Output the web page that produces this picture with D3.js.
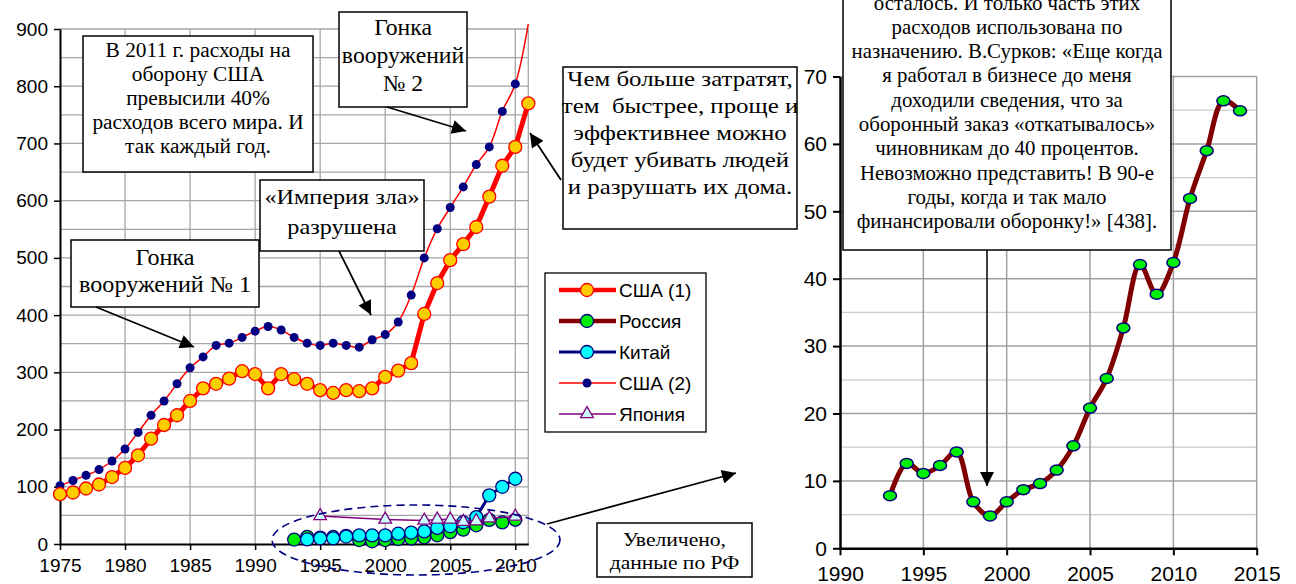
<!DOCTYPE html>
<html>
<head>
<meta charset="utf-8">
<script src="https://cdn.jsdelivr.net/npm/d3@7"></script>
<style>
  body { margin: 0; background: #fff; }
  svg { display: block; }
  .serif { font-family: "Times New Roman", "Liberation Serif", serif; white-space: pre; }
  .sans { font-family: Arial, "Liberation Sans", sans-serif; }
</style>
</head>
<body>
<div id="chart"></div>
<script>
// ---- data ----
const usaYears = d3.range(1975, 2012);
const usa1 = [87, 90, 97, 104, 117, 133, 155, 184, 208, 225, 250, 272, 280, 289, 302, 297, 272, 297, 288, 280,
              269, 264, 269, 267, 272, 292, 303, 316, 402, 456, 496, 524, 554, 607, 661, 694, 770];
const usa2 = [102, 111, 120, 130, 145, 166, 195, 225, 250, 280, 308, 327, 347, 351, 361, 372, 380, 374, 361, 351,
              347, 351, 347, 344, 357, 366, 388, 435, 500, 551, 588, 624, 663, 694, 756, 804, 909];
const russiaYears = d3.range(1993, 2015);
const russia = [7.8, 12.6, 11.1, 12.3, 14.3, 6.9, 4.8, 6.9, 8.7, 9.6, 11.6, 15.2, 20.8, 25.2, 32.7, 42.1,
                37.7, 42.4, 51.9, 59.0, 66.4, 64.9];
const chinaYears = d3.range(1994, 2011);
const china = [8, 10, 10, 13, 15, 15, 15, 18, 20, 22, 28, 31, 38, 47, 85, 100, 114];
const japanYears = [1995, 2000, 2003, 2004, 2005, 2006, 2007, 2008, 2010];
const japan = [49, 43, 41, 43, 43, 39, 40, 45, 48];

const leftYTicks = d3.range(0, 901, 100);
const leftXTicks = d3.range(1975, 2011, 5);
const rightYTicks = d3.range(0, 71, 10);
const rightXTicks = d3.range(1990, 2016, 5);

const legendNames = ["США (1)", "Россия", "Китай", "США (2)", "Япония"];

const zip = (xs, vs) => xs.map((x, i) => ({x: x, v: vs[i]}));

const svg = d3.select("#chart").append("svg")
    .attr("width", 1296).attr("height", 584);

const defs = svg.append("defs");
defs.append("marker")
    .attr("id", "ah")
    .attr("viewBox", "0 0 10 10")
    .attr("refX", 10).attr("refY", 5)
    .attr("markerUnits", "userSpaceOnUse")
    .attr("markerWidth", 17).attr("markerHeight", 14)
    .attr("orient", "auto")
  .append("path").attr("d", "M0,0 L10,5 L0,10 Z").attr("fill", "#000");

// ================= LEFT CHART =================
const xL = d3.scaleLinear().domain([1975, 2011]).range([60, 528.3]);
const yL = d3.scaleLinear().domain([0, 900]).range([544, 29]);

const gL = svg.append("g");

// grid
gL.selectAll(".hgrid").data(d3.range(50, 901, 50)).join("line")
    .attr("x1", xL(1975)).attr("x2", xL(2011))
    .attr("y1", d => yL(d)).attr("y2", d => yL(d))
    .attr("stroke", "#a6a6a6").attr("stroke-width", 1.3);
gL.selectAll(".vgrid").data(leftXTicks.slice(1).concat([2011])).join("line")
    .attr("x1", d => xL(d)).attr("x2", d => xL(d))
    .attr("y1", yL(0)).attr("y2", yL(900))
    .attr("stroke", "#a6a6a6").attr("stroke-width", 1.3);

// axes
const axL = gL.append("g").attr("transform", `translate(${xL(1975)},0)`)
    .call(d3.axisLeft(yL).tickValues(leftYTicks).tickSize(6).tickSizeOuter(0).tickPadding(6));
const axB = gL.append("g").attr("transform", `translate(0,${yL(0)})`)
    .call(d3.axisBottom(xL).tickValues(leftXTicks).tickFormat(d3.format("d")).tickSize(6).tickSizeOuter(0).tickPadding(9));
[axL, axB].forEach(a => {
  a.select(".domain").attr("stroke", "#000").attr("stroke-width", 2);
  a.selectAll(".tick line").attr("stroke", "#000").attr("stroke-width", 1.5);
  a.selectAll("text").attr("class", "sans").style("font-size", "19px").attr("fill", "#000");
});

const lineL = d3.line().x(d => xL(d.x)).y(d => yL(d.v));

// USA (2)
gL.append("path").datum(zip(usaYears, usa2))
    .attr("d", lineL.curve(d3.curveCatmullRom)).attr("fill", "none")
    .attr("stroke", "#ff0000").attr("stroke-width", 1.5);
gL.selectAll(".u2").data(zip(usaYears, usa2).filter(d => d.v <= 900)).join("circle")
    .attr("cx", d => xL(d.x)).attr("cy", d => yL(d.v)).attr("r", 4.5)
    .attr("fill", "#000080");

// USA (1)
gL.append("path").datum(zip(usaYears, usa1))
    .attr("d", lineL.curve(d3.curveLinear)).attr("fill", "none")
    .attr("stroke", "#ff0000").attr("stroke-width", 5).attr("stroke-linejoin", "round");
gL.selectAll(".u1").data(zip(usaYears, usa1)).join("circle")
    .attr("cx", d => xL(d.x)).attr("cy", d => yL(d.v)).attr("r", 6.5)
    .attr("fill", "#ffcc00").attr("stroke", "#ff0000").attr("stroke-width", 1.3);

// Russia (left, to 2010)
const rusL = zip(russiaYears, russia).filter(d => d.x <= 2010);
gL.append("path").datum(rusL)
    .attr("d", lineL.curve(d3.curveLinear)).attr("fill", "none")
    .attr("stroke", "#800000").attr("stroke-width", 4);
gL.selectAll(".ru").data(rusL).join("circle")
    .attr("cx", d => xL(d.x)).attr("cy", d => yL(d.v)).attr("r", 6.5)
    .attr("fill", "#00ee00").attr("stroke", "#000080").attr("stroke-width", 1.3);

// China
gL.append("path").datum(zip(chinaYears, china))
    .attr("d", lineL.curve(d3.curveLinear)).attr("fill", "none")
    .attr("stroke", "#000080").attr("stroke-width", 3);
gL.selectAll(".cn").data(zip(chinaYears, china)).join("circle")
    .attr("cx", d => xL(d.x)).attr("cy", d => yL(d.v)).attr("r", 6.5)
    .attr("fill", "#00ffff").attr("stroke", "#000080").attr("stroke-width", 1.3);

// Japan
const tri = d3.symbol().type(d3.symbolTriangle).size(70);
gL.append("path").datum(zip(japanYears, japan))
    .attr("d", lineL.curve(d3.curveLinear)).attr("fill", "none")
    .attr("stroke", "#800080").attr("stroke-width", 1.5);
gL.selectAll(".jp").data(zip(japanYears, japan)).join("path")
    .attr("d", tri)
    .attr("transform", d => `translate(${xL(d.x)},${yL(d.v)})`)
    .attr("fill", "#ccffff").attr("stroke", "#800080").attr("stroke-width", 1.3);

// ================= RIGHT CHART =================
const xR = d3.scaleLinear().domain([1990, 2015]).range([840, 1256.7]);
const yR = d3.scaleLinear().domain([0, 70]).range([548.3, 76.5]);
const gR = svg.append("g");

gR.selectAll(".minor").data(d3.range(5, 70, 10)).join("line")
    .attr("x1", xR(1990)).attr("x2", xR(2015))
    .attr("y1", d => yR(d)).attr("y2", d => yR(d))
    .attr("stroke", "#cccccc").attr("stroke-width", 1.3);
gR.selectAll(".major").data(rightYTicks.slice(1)).join("line")
    .attr("x1", xR(1990)).attr("x2", xR(2015))
    .attr("y1", d => yR(d)).attr("y2", d => yR(d))
    .attr("stroke", "#a0a0a0").attr("stroke-width", 1.5);
gR.selectAll(".vg").data(rightXTicks.slice(1)).join("line")
    .attr("x1", d => xR(d)).attr("x2", d => xR(d))
    .attr("y1", yR(0)).attr("y2", yR(70))
    .attr("stroke", "#a0a0a0").attr("stroke-width", 1.5);

const axRL = gR.append("g").attr("transform", `translate(${xR(1990)},0)`)
    .call(d3.axisLeft(yR).tickValues(rightYTicks).tickSize(7).tickSizeOuter(0).tickPadding(6));
const axRB = gR.append("g").attr("transform", `translate(0,${yR(0)})`)
    .call(d3.axisBottom(xR).tickValues(rightXTicks).tickFormat(d3.format("d")).tickSize(7).tickSizeOuter(0).tickPadding(11));
[axRL, axRB].forEach(a => {
  a.select(".domain").attr("stroke", "#000").attr("stroke-width", 2.5);
  a.selectAll(".tick line").attr("stroke", "#000").attr("stroke-width", 2);
  a.selectAll("text").attr("class", "sans").style("font-size", "21px").attr("fill", "#000");
});

const lineR = d3.line().x(d => xR(d.x)).y(d => yR(d.v)).curve(d3.curveCatmullRom);
gR.append("path").datum(zip(russiaYears, russia))
    .attr("d", lineR).attr("fill", "none")
    .attr("stroke", "#800000").attr("stroke-width", 5).attr("stroke-linejoin", "round");
gR.selectAll(".rr").data(zip(russiaYears, russia)).join("ellipse")
    .attr("cx", d => xR(d.x)).attr("cy", d => yR(d.v)).attr("rx", 6.5).attr("ry", 5)
    .attr("fill", "#00ee00").attr("stroke", "#000080").attr("stroke-width", 1.5);

// ================= ANNOTATIONS =================
// text in the source is slightly stretched horizontally, hence sx
function box(x, y, w, h, lines, fs, firstY, lineH, sx) {
  const g = svg.append("g");
  g.append("rect").attr("x", x).attr("y", y).attr("width", w).attr("height", h)
      .attr("fill", "#fff").attr("stroke", "#000").attr("stroke-width", 1.5);
  g.append("g").attr("transform", `translate(${x + w / 2},0) scale(${sx},1)`)
    .selectAll("text").data(lines).join("text")
      .attr("class", "serif")
      .attr("x", 0)
      .attr("y", (d, i) => firstY + i * lineH + fs * 0.33)
      .attr("text-anchor", "middle")
      .style("font-size", fs + "px")
      .attr("fill", "#000")
      .text(d => d);
}
function arrow(x1, y1, x2, y2) {
  svg.append("line").attr("x1", x1).attr("y1", y1).attr("x2", x2).attr("y2", y2)
      .attr("stroke", "#000").attr("stroke-width", 1.8).attr("marker-end", "url(#ah)");
}

// dashed ellipse around the small series
svg.append("ellipse").attr("cx", 416).attr("cy", 540).attr("rx", 144).attr("ry", 35)
    .attr("fill", "none").attr("stroke", "#000080").attr("stroke-width", 1.6)
    .attr("stroke-dasharray", "8,5");
arrow(547, 524, 736, 473);

box(83, 36, 230, 136, ["В 2011 г. расходы на", "оборону США", "превысили 40%", "расходов всего мира. И", "так каждый год."], 20, 50, 24.2, 1.07);
box(339, 12, 128, 95, ["Гонка", "вооружений", "№ 2"], 23, 27, 28.3, 1.03);
arrow(387, 107, 466, 131);
box(260, 180, 164, 71, ["«Империя зла»", "разрушена"], 22, 197, 30, 1.1);
arrow(339, 251, 371, 315);
box(71, 240, 188, 67, ["Гонка", "вооружений № 1"], 23, 257, 27, 1.05);
arrow(96, 307, 194, 347);
box(563, 67, 234, 162, ["Чем больше затратят,", "тем  быстрее, проще и", "эффективнее можно", "будет убивать людей", "и разрушать их дома."], 22, 79, 27, 1.13);
arrow(561, 180, 530, 133);
box(597, 523, 155, 54, ["Увеличено,", "данные по РФ"], 18, 540, 23.3, 1.2);

box(843, -40, 328, 290, ["осталось. И только часть этих", "расходов использована по", "назначению. В.Сурков: «Еще когда",
    "я работал в бизнесе до меня", "доходили сведения, что за", "оборонный заказ «откатывалось»",
    "чиновникам до 40 процентов.", "Невозможно представить! В 90-е", "годы, когда и так мало",
    "финансировали оборонку!» [438]."], 20, 3, 24.3, 1.045);
svg.append("line").attr("x1", 987).attr("y1", 250).attr("x2", 987).attr("y2", 486)
    .attr("stroke", "#000").attr("stroke-width", 1.5).attr("marker-end", "url(#ah)");

// legend
const lg = svg.append("g");
lg.append("rect").attr("x", 545).attr("y", 273).attr("width", 161).attr("height", 159)
    .attr("fill", "#fff").attr("stroke", "#000").attr("stroke-width", 1.3);
const legendStyle = [
  {stroke: "#ff0000", sw: 4.5, fill: "#ffcc00", mstroke: "#ff0000", shape: "circle", r: 6.5},
  {stroke: "#800000", sw: 4.5, fill: "#00ee00", mstroke: "#000080", shape: "circle", r: 6.5},
  {stroke: "#000080", sw: 3, fill: "#00ffff", mstroke: "#000080", shape: "circle", r: 6.5},
  {stroke: "#ff0000", sw: 1.5, fill: "#000080", mstroke: "none", shape: "circle", r: 4.5},
  {stroke: "#800080", sw: 1.5, fill: "#ccffff", mstroke: "#800080", shape: "tri"}
];
const le = lg.selectAll(".le").data(legendNames).join("g")
    .attr("transform", (d, i) => `translate(0,${290 + i * 31})`);
le.append("line").attr("x1", 559).attr("x2", 616)
    .attr("stroke", (d, i) => legendStyle[i].stroke).attr("stroke-width", (d, i) => legendStyle[i].sw);
le.each(function (d, i) {
  const s = legendStyle[i];
  const g = d3.select(this);
  if (s.shape === "circle") {
    g.append("circle").attr("cx", 587).attr("r", s.r)
        .attr("fill", s.fill).attr("stroke", s.mstroke).attr("stroke-width", 1.3);
  } else {
    g.append("path").attr("d", tri).attr("transform", "translate(587,0)")
        .attr("fill", s.fill).attr("stroke", s.mstroke).attr("stroke-width", 1.3);
  }
});
le.append("text").attr("class", "sans").attr("x", 619).attr("y", 7)
    .style("font-size", "19px").text(d => d);
</script>
</body>
</html>
